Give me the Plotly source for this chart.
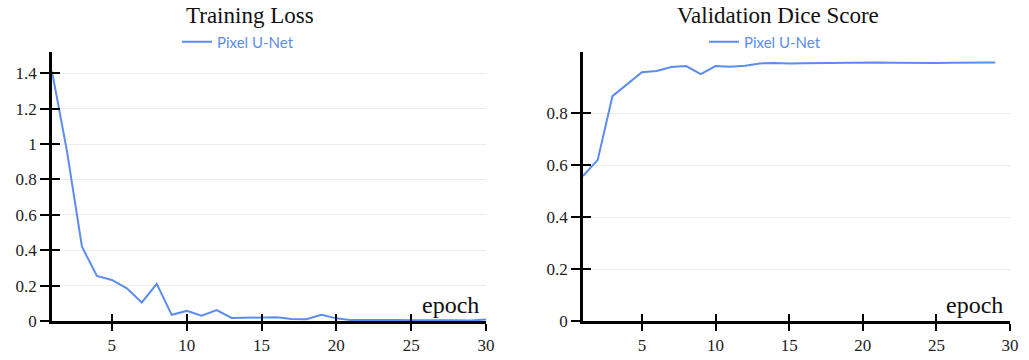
import plotly.graph_objects as go

epochs_loss = list(range(1, 31))
train_loss = [1.41, 0.96, 0.42, 0.255, 0.232, 0.185, 0.105, 0.21, 0.035, 0.057,
              0.03, 0.062, 0.017, 0.019, 0.017, 0.021, 0.012, 0.01, 0.035, 0.015,
              0.005, 0.006, 0.007, 0.005, 0.004, 0.005, 0.004, 0.004, 0.003, 0.008]

epochs_dice = list(range(1, 30))
val_dice = [0.558, 0.62, 0.865, 0.91, 0.957, 0.962, 0.977, 0.981, 0.95, 0.981,
            0.978, 0.982, 0.991, 0.993, 0.991, 0.992, 0.993, 0.994, 0.994, 0.995,
            0.995, 0.994, 0.993, 0.993, 0.993, 0.994, 0.994, 0.995, 0.995]

series_name = "Pixel U-Net"
titles = ["Training Loss", "Validation Dice Score"]
x_label = "epoch"
loss_ticks = [0, 0.2, 0.4, 0.6, 0.8, 1, 1.2, 1.4]
dice_ticks = [0, 0.2, 0.4, 0.6, 0.8]
epoch_ticks = [5, 10, 15, 20, 25, 30]
epoch_range = [1, 30]
loss_range = [0, 1.52]
dice_range = [0, 1.035]

BLUE = "#5b8def"
SERIF = "Liberation Serif"
SANS = "Lato"
W, H = 1029, 360

TICKFONT = dict(family=SERIF, size=17, color="#222222")

fig = go.Figure()
fig.add_trace(go.Scatter(x=epochs_loss, y=train_loss, mode="lines", name=series_name,
                         line=dict(color=BLUE, width=2), xaxis="x", yaxis="y", legend="legend"))
fig.add_trace(go.Scatter(x=epochs_dice, y=val_dice, mode="lines", name=series_name,
                         line=dict(color=BLUE, width=2), xaxis="x2", yaxis="y2", legend="legend2"))
# empty traces hosting the overlay axes that draw the inner half of each tick
for xa, ya in [("x3", "y3"), ("x4", "y4")]:
    fig.add_trace(go.Scatter(x=[], y=[], xaxis=xa, yaxis=ya, showlegend=False, hoverinfo="skip"))

xd1 = [52 / W, 486 / W]
xd2 = [583 / W, 1010 / W]
yd = [39 / H, 308 / H]


def main_x(domain, anchor):
    return dict(domain=domain, anchor=anchor, range=epoch_range, tickmode="array",
                tickvals=epoch_ticks, showgrid=False, zeroline=False,
                showline=True, linecolor="black", linewidth=2.5, automargin=False,
                ticks="outside", ticklen=7, tickwidth=2, tickcolor="black",
                showticklabels=True, tickfont=dict(TICKFONT))


def main_y(anchor, rng, vals):
    return dict(domain=yd, anchor=anchor, range=rng, tickmode="array", tickvals=vals,
                showgrid=True, gridcolor="#ececec", gridwidth=1, zeroline=False,
                showline=True, linecolor="black", linewidth=2.5, automargin=False,
                ticks="outside", ticklen=9, tickwidth=2, tickcolor="black",
                showticklabels=True, tickfont=dict(TICKFONT))


def over_x(base, anchor, domain):
    return dict(overlaying=base, anchor=anchor, domain=domain, range=epoch_range,
                tickmode="array", tickvals=epoch_ticks, showgrid=False, zeroline=False,
                showline=False, ticks="inside", ticklen=7, tickwidth=2, tickcolor="black",
                showticklabels=False, automargin=False)


def over_y(base, anchor, rng, vals):
    return dict(overlaying=base, anchor=anchor, domain=yd, range=rng, tickmode="array",
                tickvals=vals, showgrid=False, zeroline=False, showline=False,
                ticks="inside", ticklen=8, tickwidth=2, tickcolor="black",
                showticklabels=False, automargin=False)


legfont = dict(family=SANS, size=15, color=BLUE)
fig.update_layout(
    template="none",
    width=W, height=H, margin=dict(l=0, r=0, t=0, b=0, autoexpand=False),
    paper_bgcolor="white", plot_bgcolor="white",
    font=dict(family=SERIF, size=17, color="#222222"),
    xaxis=main_x(xd1, "y"),
    yaxis=main_y("x", loss_range, loss_ticks),
    xaxis2=main_x(xd2, "y2"),
    yaxis2=main_y("x2", dice_range, dice_ticks),
    xaxis3=over_x("x", "y3", xd1),
    yaxis3=over_y("y", "x3", loss_range, loss_ticks),
    xaxis4=over_x("x2", "y4", xd2),
    yaxis4=over_y("y2", "x4", dice_range, dice_ticks),
    legend=dict(x=238 / W, y=1 - 42 / H, xanchor="center", yanchor="middle",
                font=legfont, bgcolor="rgba(0,0,0,0)", itemwidth=30, borderwidth=0),
    legend2=dict(x=765 / W, y=1 - 42 / H, xanchor="center", yanchor="middle",
                 font=legfont, bgcolor="rgba(0,0,0,0)", itemwidth=30, borderwidth=0),
    showlegend=True,
)

for i, cx in enumerate([250, 778]):
    fig.add_annotation(text=titles[i], xref="paper", yref="paper", x=cx / W, y=1 - 16 / H,
                       xanchor="center", yanchor="middle", showarrow=False,
                       font=dict(family=SERIF, size=23, color="#111111"))
for xr, yr in [("x", "y"), ("x2", "y2")]:
    fig.add_annotation(text=x_label, xref=xr, yref=yr, x=30, y=0, xanchor="right",
                       yanchor="bottom", xshift=-5, yshift=1, showarrow=False,
                       font=dict(family=SERIF, size=24, color="#111111"))

fig.write_html("out.html")
